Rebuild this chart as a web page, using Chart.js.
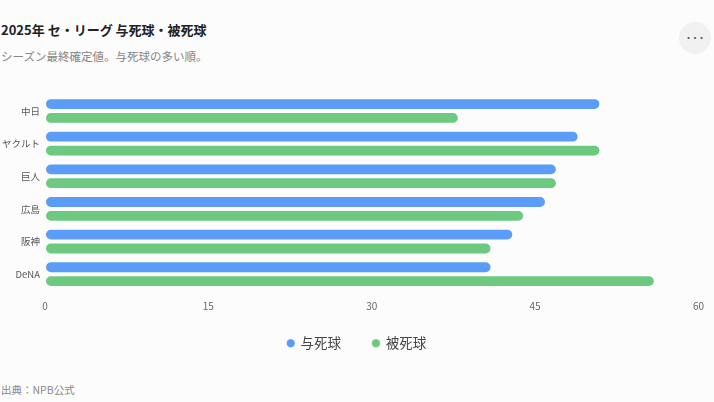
<!DOCTYPE html>
<html lang="ja">
<head>
<meta charset="utf-8">
<script src="https://cdn.jsdelivr.net/npm/chart.js@4"></script>
<style>
  html, body { margin: 0; padding: 0; background: #fcfcfc; }
  body { width: 714px; height: 402px; position: relative; overflow: hidden;
         font-family: "Noto Sans CJK JP", "Noto Sans", sans-serif; }
  #title { position: absolute; left: 1px; top: 20px; font-size: 13px; font-weight: bold; color: #222; }
  #sub { position: absolute; left: 1px; top: 48px; font-size: 11.5px; color: #858585; }
  #menu { position: absolute; left: 679px; top: 22px; width: 32px; height: 32px; border-radius: 50%;
          background: #f1f1f1; color: #555; font-size: 11px; font-weight: bold; line-height: 30px; text-align: center; }
  #src { position: absolute; left: 1px; top: 382px; font-size: 10.5px; color: #888; }
  #wrap { position: absolute; left: 0; top: 84px; width: 714px; height: 294px; }
</style>
</head>
<body>
<div id="title">2025年 セ・リーグ 与死球・被死球</div>
<div id="sub">シーズン最終確定値。与死球の多い順。</div>
<div id="menu">···</div>
<div id="wrap"><canvas id="chart"></canvas></div>
<div id="src">出典：NPB公式</div>
<script>
const teams = ['中日', 'ヤクルト', '巨人', '広島', '阪神', 'DeNA'];
const given = [51, 49, 47, 46, 43, 41];
const received = [38, 51, 47, 44, 41, 56];
const xTicks = [0, 15, 30, 45, 60];

const ctx = document.getElementById('chart');

// pull the legend up a bit and center it on the full width
// (its padding also sets the gap between items)
const legendShift = {
  id: 'legendShift',
  afterLayout(chart) {
    const lg = chart.legend;
    lg.top -= 18;
    lg.bottom -= 18;
    lg.left += 7.5;
    lg.right += 7.5;
  }
};

new Chart(ctx, {
  type: 'bar',
  data: {
    labels: teams,
    datasets: [{
      label: '与死球',
      data: given,
      backgroundColor: '#5b9cf6',
      borderColor: 'rgba(255,255,255,0.3)',
      borderWidth: 1,
      borderRadius: 6,
      borderSkipped: false
    }, {
      label: '被死球',
      data: received,
      backgroundColor: '#6dc880',
      borderColor: 'rgba(255,255,255,0.3)',
      borderWidth: 1,
      borderRadius: 6,
      borderSkipped: false
    }]
  },
  options: {
    indexAxis: 'y',
    responsive: true,
    maintainAspectRatio: false,
    animation: false,
    layout: { padding: { left: 0, right: 15, top: 7, bottom: 0 } },
    datasets: { bar: { categoryPercentage: 0.85, barPercentage: 0.85 } },
    scales: {
      x: {
        min: 0,
        max: 60,
        afterBuildTicks: axis => { axis.ticks = xTicks.map(v => ({ value: v })); },
        grid: { display: false, drawTicks: false },
        border: { display: false },
        ticks: { color: '#666', font: { size: 10, family: 'Noto Sans CJK JP' }, padding: 10 }
      },
      y: {
        afterFit: axis => { axis.width = 45; },
        grid: { display: false, drawTicks: false },
        border: { display: false },
        ticks: { color: '#555', font: { size: 9.5, family: 'Noto Sans CJK JP' }, padding: 5 }
      }
    },
    plugins: {
      legend: {
        position: 'bottom',
        labels: {
          usePointStyle: true,
          pointStyle: 'circle',
          boxWidth: 6,
          boxHeight: 6,
          padding: 32,
          color: '#444',
          font: { size: 13.5, family: 'Noto Sans CJK JP' }
        }
      },
      tooltip: { enabled: false }
    }
  },
  plugins: [legendShift]
});
</script>
</body>
</html>
